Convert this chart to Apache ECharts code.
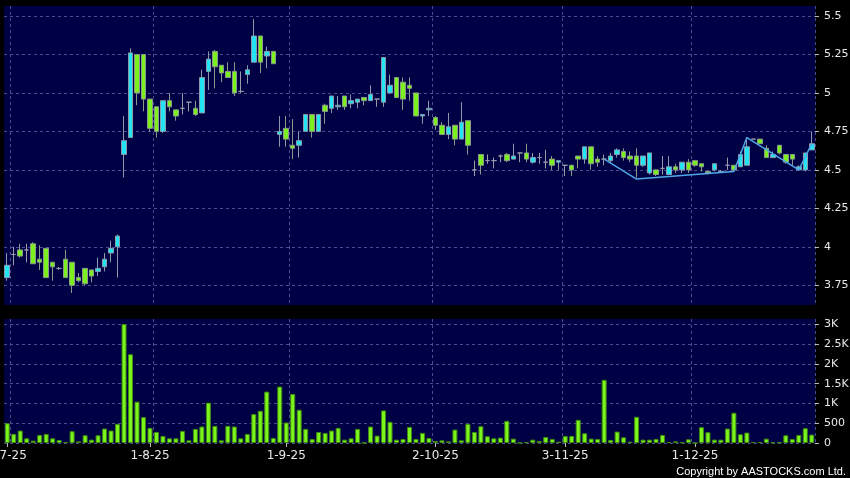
<!DOCTYPE html>
<html>
<head>
<meta charset="utf-8">
<script src="https://cdn.jsdelivr.net/npm/echarts@6/dist/echarts.min.js"></script>
<style>
html,body{margin:0;padding:0;background:#000;}
#c{width:850px;height:478px;}
</style>
</head>
<body>
<div id="c"></div>
<script>
// ---- data ----
const opens  = [3.80,3.95,3.98,3.98,4.02,3.92,3.99,3.90,3.86,3.92, 3.90,3.80,3.86,3.85,3.84,3.87,3.96,4.00,4.60,4.71,
                5.25,5.25,4.96,4.91,4.75,4.95,4.89,4.90,4.94,4.90, 4.87,5.14,5.27,5.18,5.14,5.14,5.01,5.12,5.20,5.37,
                5.24,5.27,4.73,4.77,4.66,4.66,4.75,4.86,4.75,4.92, 4.90,4.91,4.98,4.93,4.94,4.97,4.95,4.96,4.94,5.00,
                5.10,5.07,5.05,5.00,4.85,4.89,4.84,4.79,4.73,4.79, 4.70,4.82,4.50,4.60,4.56,4.56,4.59,4.60,4.57,4.61,
                4.61,4.55,4.58,4.55,4.57,4.55,4.53,4.53,4.59,4.57, 4.65,4.57,4.57,4.56,4.60,4.62,4.59,4.59,4.53,4.48,
                4.50,4.51,4.47,4.52,4.50,4.55,4.56,4.54,4.49,4.50, 4.49,4.53,4.53,4.52,4.53,4.70,4.70,4.64,4.58,4.66,
                4.60,4.60,4.50,4.50,4.63];
const closes = [3.88,3.95,3.94,3.98,3.89,3.90,3.80,3.87,3.86,3.80, 3.75,3.78,3.76,3.81,3.86,3.92,3.99,4.07,4.69,5.26,
                5.00,4.96,4.77,4.75,4.95,4.91,4.85,4.90,4.94,4.86, 5.10,5.22,5.17,5.13,5.10,5.00,5.01,5.15,5.37,5.20,
                5.27,5.19,4.75,4.70,4.64,4.69,4.86,4.75,4.86,4.88, 4.98,4.92,4.91,4.95,4.96,4.95,4.99,4.96,5.23,5.05,
                4.97,4.96,5.03,4.85,4.86,4.90,4.79,4.73,4.78,4.70, 4.81,4.66,4.50,4.53,4.56,4.56,4.59,4.56,4.59,4.61,
                4.57,4.58,4.58,4.55,4.53,4.56,4.53,4.50,4.57,4.65, 4.54,4.55,4.57,4.59,4.63,4.58,4.57,4.53,4.59,4.61,
                4.47,4.51,4.52,4.50,4.55,4.50,4.53,4.52,4.48,4.54, 4.49,4.53,4.50,4.60,4.65,4.70,4.67,4.58,4.60,4.61,
                4.55,4.57,4.52,4.61,4.67];
const lows   = [3.78,3.88,3.93,3.90,3.89,3.85,3.80,3.78,3.85,3.80, 3.70,3.77,3.75,3.77,3.81,3.84,3.90,3.80,4.45,4.71,
                4.92,4.88,4.75,4.71,4.74,4.88,4.82,4.86,4.88,4.85, 4.87,5.02,5.03,5.07,5.10,4.98,5.00,5.06,5.20,5.13,
                5.16,5.19,4.65,4.65,4.57,4.58,4.75,4.71,4.75,4.80, 4.87,4.89,4.89,4.90,4.90,4.92,4.95,4.91,4.91,5.00,
                4.97,4.89,4.95,4.85,4.80,4.85,4.76,4.73,4.70,4.66, 4.70,4.60,4.46,4.47,4.54,4.51,4.55,4.55,4.57,4.55,
                4.55,4.54,4.54,4.51,4.50,4.50,4.46,4.46,4.51,4.54, 4.50,4.52,4.53,4.54,4.58,4.56,4.55,4.45,4.52,4.47,
                4.46,4.47,4.47,4.48,4.48,4.48,4.52,4.49,4.47,4.49, 4.48,4.50,4.49,4.52,4.53,4.70,4.67,4.58,4.58,4.60,
                4.54,4.53,4.50,4.49,4.63];
const highs  = [3.96,4.00,4.02,4.02,4.03,4.01,3.99,3.90,3.87,3.98, 3.90,3.83,3.86,3.85,3.93,3.96,4.04,4.08,4.85,5.29,
                5.25,5.25,4.96,4.91,4.95,5.00,4.89,5.00,4.94,4.95, 5.15,5.27,5.28,5.18,5.20,5.20,5.14,5.18,5.48,5.37,
                5.30,5.27,4.85,4.85,4.83,4.75,4.86,4.86,4.86,4.93, 4.98,4.98,4.98,4.99,4.96,4.97,5.05,4.96,5.23,5.12,
                5.10,5.10,5.10,5.00,4.86,4.95,4.85,4.81,4.87,4.79, 4.94,4.82,4.56,4.60,4.60,4.58,4.60,4.61,4.67,4.61,
                4.67,4.61,4.61,4.63,4.59,4.56,4.53,4.53,4.59,4.65, 4.65,4.59,4.60,4.61,4.64,4.64,4.62,4.64,4.59,4.61,
                4.50,4.59,4.59,4.54,4.55,4.57,4.56,4.54,4.49,4.54, 4.50,4.58,4.53,4.62,4.71,4.70,4.70,4.66,4.62,4.66,
                4.60,4.60,4.53,4.61,4.75];
const volumes = [500,230,315,119,60,204,230,119,77,25, 298,42,196,85,196,366,315,485,3010,2245,
                 1045,655,383,280,178,119,119,306,68,357, 417,1020,434,68,434,417,119,230,732,816,
                 1300,127,1428,518,1241,841,357,102,280,255, 315,383,85,119,357,5,417,187,824,536,
                 85,102,408,102,255,127,51,68,42,340, 68,485,280,425,170,119,136,561,110,5,
                 20,85,51,153,102,34,178,178,586,247, 110,102,1598,77,289,145,34,663,85,85,
                 102,204,25,42,17,94,0,400,272,85, 85,366,765,221,264,25,25,110,17,17,
                 196,102,204,374,213];
// blue indicator line: category index and price of each vertex
const lineIdx = [92, 97, 112, 114, 122, 124];
const lineVal = [4.57, 4.44, 4.49, 4.71, 4.50, 4.67];
// x-axis labels
const xLabelIdx = [0, 22, 43, 66, 86, 106];
const xLabelText = ['2-7-25', '1-8-25', '1-9-25', '2-10-25', '3-11-25', '1-12-25'];
const xGridIdx = [1, 23, 44, 66, 86, 106];
// y-axis ticks
const priceTicks = [3.75, 4, 4.25, 4.5, 4.75, 5, 5.25, 5.5];
const priceTickText = ['3.75', '4', '4.25', '4.5', '4.75', '5', '5.25', '5.5'];
const volTicks = [0, 500, 1000, 1500, 2000, 2500, 3000];
const volTickText = ['0', '500', '1K', '1.5K', '2K', '2.5K', '3K'];

// ---- build ----
const cats = opens.map((_, i) => String(i));
const candles = opens.map((o, i) => [o, closes[i], lows[i], highs[i]]);
const lineData = cats.map(() => null);
lineIdx.forEach((k, j) => { lineData[k] = lineVal[j]; });

const gridLine = { show: true, lineStyle: { color: '#4b4b8e', type: [3, 3], width: 1 } };
const labelFont = { color: '#e8e8e8', fontFamily: 'DejaVu Sans', fontSize: 11 };

const chart = echarts.init(document.getElementById('c'), null, { renderer: 'canvas' });
chart.setOption({
  animation: false,
  backgroundColor: '#000000',
  grid: [
    { left: 4, right: 35, top: 6, height: 299, show: true, backgroundColor: '#000044', borderWidth: 0,
      containLabel: false, outerBoundsMode: 'none' },
    { left: 4, right: 35, top: 319, height: 124, show: true, backgroundColor: '#000044', borderWidth: 0,
      containLabel: false, outerBoundsMode: 'none' }
  ],
  xAxis: [
    {
      type: 'category', gridIndex: 0, data: cats, boundaryGap: true,
      axisLine: { show: false }, axisTick: { show: false }, axisLabel: { show: false },
      splitLine: Object.assign({ interval: (i) => xGridIdx.includes(i) }, gridLine)
    },
    {
      type: 'category', gridIndex: 1, data: cats, boundaryGap: true,
      axisLine: { show: false },
      axisTick: { show: true, alignWithLabel: true, length: 4, interval: (i) => xLabelIdx.includes(i), lineStyle: { color: '#bbbbbb' } },
      axisLabel: Object.assign({}, labelFont, { interval: (i) => xLabelIdx.includes(i), margin: 7, fontSize: 12,
        hideOverlap: false,
        formatter: (v, i) => { const k = xLabelIdx.indexOf(i); return k >= 0 ? xLabelText[k] : ''; } }),
      splitLine: Object.assign({ interval: (i) => xGridIdx.includes(i) }, gridLine)
    }
  ],
  yAxis: [
    {
      type: 'value', gridIndex: 0, position: 'right', min: 3.622, max: 5.565, scale: true,
      axisLine: { show: false },
      axisTick: { show: true, length: 4, customValues: priceTicks, lineStyle: { color: '#bbbbbb' } },
      axisLabel: Object.assign({ margin: 9, customValues: priceTicks,
        formatter: (v) => { const k = priceTicks.indexOf(Math.round(v * 100) / 100); return k >= 0 ? priceTickText[k] : ''; } }, labelFont),
      splitLine: gridLine
    },
    {
      type: 'value', gridIndex: 1, position: 'right', min: 0, max: 3137,
      axisLine: { show: false },
      axisTick: { show: true, length: 4, customValues: volTicks, lineStyle: { color: '#bbbbbb' } },
      axisLabel: Object.assign({ margin: 9, customValues: volTicks,
        formatter: (v) => { const k = volTicks.indexOf(Math.round(v)); return k >= 0 ? volTickText[k] : ''; } }, labelFont),
      splitLine: gridLine
    }
  ],
  series: [
    {
      type: 'candlestick', xAxisIndex: 0, yAxisIndex: 0, data: candles, barWidth: 5,
      itemStyle: {
        color: '#22e4f2', color0: '#7cf01e',
        borderColor: '#8a9aaa', borderColor0: '#8a9a8a', borderColorDoji: '#9a9aaa', borderWidth: 1
      }
    },
    {
      type: 'line', xAxisIndex: 0, yAxisIndex: 0, data: lineData, connectNulls: true,
      symbol: 'none', lineStyle: { color: '#4fa6e6', width: 1.5 }, z: 3
    },
    {
      type: 'bar', xAxisIndex: 1, yAxisIndex: 1, data: volumes, barWidth: 5,
      itemStyle: { color: '#7cf51c', borderColor: '#3e8a10', borderWidth: 1 }
    }
  ],
  graphic: [
    { type: 'text', right: 4, bottom: 1,
      style: { text: 'Copyright by AASTOCKS.com Ltd.', fill: '#ffffff', font: '11px "Liberation Sans", Arial, sans-serif' } }
  ]
});
</script>
</body>
</html>
